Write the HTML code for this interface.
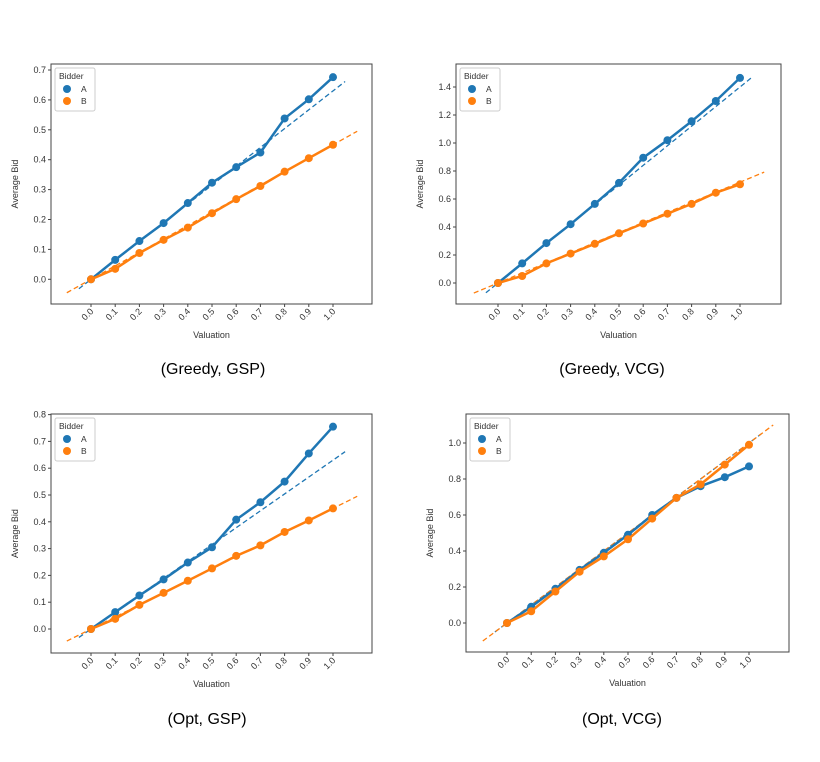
<!DOCTYPE html>
<html><head><meta charset="utf-8"><style>
body{margin:0;background:#fff;width:820px;height:757px;overflow:hidden;font-family:"Liberation Sans",sans-serif}
svg text{font-family:"Liberation Sans",sans-serif}
</style></head><body>
<svg id="fig" width="820" height="757" xmlns="http://www.w3.org/2000/svg"></svg>
<script>
const valuations=[0,0.1,0.2,0.3,0.4,0.5,0.6,0.7,0.8,0.9,1.0];
const xTickLabels=["0.0","0.1","0.2","0.3","0.4","0.5","0.6","0.7","0.8","0.9","1.0"];
const p1A=[0,0.065,0.128,0.188,0.255,0.323,0.375,0.424,0.538,0.602,0.676];
const p1B=[0,0.035,0.088,0.132,0.173,0.221,0.268,0.312,0.36,0.405,0.45];
const p2A=[0,0.14,0.285,0.42,0.565,0.715,0.895,1.02,1.155,1.3,1.465];
const p2B=[0,0.05,0.14,0.21,0.28,0.355,0.425,0.495,0.565,0.645,0.705];
const p3A=[0,0.063,0.125,0.185,0.248,0.305,0.408,0.473,0.55,0.655,0.755];
const p3B=[0,0.038,0.09,0.135,0.18,0.226,0.273,0.312,0.362,0.405,0.45];
const p4A=[0,0.09,0.19,0.295,0.39,0.49,0.60,0.695,0.76,0.81,0.87];
const p4B=[0,0.065,0.175,0.285,0.37,0.465,0.58,0.695,0.77,0.88,0.99];
const p1YTicks=[0,0.1,0.2,0.3,0.4,0.5,0.6,0.7];
const p2YTicks=[0,0.2,0.4,0.6,0.8,1.0,1.2,1.4];
const p3YTicks=[0,0.1,0.2,0.3,0.4,0.5,0.6,0.7,0.8];
const p4YTicks=[0,0.2,0.4,0.6,0.8,1.0];
const slopesA=[0.63,1.4,0.63,1.0];
const slopesB=[0.45,0.72,0.45,1.0];
const captions=["(Greedy, GSP)","(Greedy, VCG)","(Opt, GSP)","(Opt, VCG)"];

const NS="http://www.w3.org/2000/svg";
const svg=document.getElementById('fig');
function mk(tag,attrs,parent){const e=document.createElementNS(NS,tag);for(const k in attrs)e.setAttribute(k,attrs[k]);parent.appendChild(e);return e;}
const BLUE="#1f77b4",ORANGE="#ff7f0e";

const panels=[
 {box:[51,64,372,304],x0:91,x1:333,y0:279.3,yPer:29.9/0.1,A:p1A,B:p1B,ticks:p1YTicks,dec:1,cap:[213,368]},
 {box:[456,64,781,304],x0:498,x1:740,y0:283,yPer:196/1.4,A:p2A,B:p2B,ticks:p2YTicks,dec:1,cap:[612,368]},
 {box:[51,414,372,653],x0:91,x1:333,y0:629,yPer:26.8/0.1,A:p3A,B:p3B,ticks:p3YTicks,dec:1,cap:[207,718]},
 {box:[466,414,789,652],x0:507,x1:749,y0:623,yPer:36/0.2,A:p4A,B:p4B,ticks:p4YTicks,dec:1,cap:[622,718]}
];
panels.forEach((p,i)=>{
 const g=mk('g',{},svg);
 
 
 const xs=v=>p.x0+(p.x1-p.x0)*v;
 const ys=v=>p.y0-p.yPer*v;
 const [L,T,R,B]=p.box;
 const clip=mk('clipPath',{id:'c'+i},g);mk('rect',{x:L,y:T,width:R-L,height:B-T},clip);
 // dashed fit lines
 const dA=mk('line',{x1:xs(-0.05),y1:ys(-0.05*slopesA[i]),x2:xs(1.05),y2:ys(1.05*slopesA[i]),stroke:BLUE,'stroke-width':1.3,'stroke-dasharray':'5,3','clip-path':'url(#c'+i+')'},g);
 
 
 const dB=mk('line',{x1:xs(-0.1),y1:ys(-0.1*slopesB[i]),x2:xs(1.1),y2:ys(1.1*slopesB[i]),stroke:ORANGE,'stroke-width':1.3,'stroke-dasharray':'5,3','clip-path':'url(#c'+i+')'},g);
 
 
 [[p.A,BLUE,'a'],[p.B,ORANGE,'b']].forEach(([arr,col,nm])=>{
  const pl=mk('polyline',{points:arr.map((v,j)=>xs(valuations[j])+','+ys(v)).join(' '),fill:'none',stroke:col,'stroke-width':2.5},g);
  
  
  arr.forEach((v,j)=>{
   const c=mk('circle',{cx:xs(valuations[j]),cy:ys(v),r:4,fill:col},g);
   
   
  });
 });
 const fr=mk('rect',{x:L,y:T,width:R-L,height:B-T,fill:'none',stroke:'#444','stroke-width':1},g);
 
 
 p.ticks.forEach(t=>{
  mk('line',{x1:L-3,x2:L,y1:ys(t),y2:ys(t),stroke:'#444'},g);
  const tx=mk('text',{x:L-5,y:ys(t)+3,'font-size':9,'text-anchor':'end',fill:'#333'},g);
  tx.textContent=t.toFixed(p.dec);
  
  
 });
 valuations.forEach((v,j)=>{
  const x=xs(v);
  mk('line',{x1:x,x2:x,y1:B,y2:B+3,stroke:'#444'},g);
  const tx=mk('text',{x:x+3,y:B+8,'font-size':9,'text-anchor':'end',fill:'#333',transform:`rotate(-45 ${x+3} ${B+8})`},g);
  tx.textContent=xTickLabels[j];
  
  
 });
 const xl=mk('text',{x:(L+R)/2,y:B+34,'font-size':9,'text-anchor':'middle',fill:'#333'},g);
 xl.textContent='Valuation';
 
 
 const yx=L-33,yy=(T+B)/2;
 const yl=mk('text',{x:yx,y:yy,'font-size':9,'text-anchor':'middle',fill:'#333',transform:`rotate(-90 ${yx} ${yy})`},g);
 yl.textContent='Average Bid';
 
 
 // legend
 const lg=mk('g',{},g);
 
 
 mk('rect',{x:L+4,y:T+4,width:40,height:43,rx:2,fill:'#fff',stroke:'#ccc'},lg);
 const lt=mk('text',{x:L+8,y:T+15,'font-size':8.5,fill:'#333'},lg);lt.textContent='Bidder';
 [['A',BLUE,T+28],['B',ORANGE,T+40]].forEach(([n,c,y])=>{
  const e=mk('circle',{cx:L+16,cy:y-3,r:4,fill:c},lg);
  
  
  const t=mk('text',{x:L+30,y:y,'font-size':8.5,fill:'#333'},lg);t.textContent=n;
 });
 const cap=mk('text',{x:p.cap[0],y:p.cap[1]+6,'font-size':16,'text-anchor':'middle',fill:'#000'},svg);
 cap.textContent=captions[i];
 
 
});
</script>
</body></html>
